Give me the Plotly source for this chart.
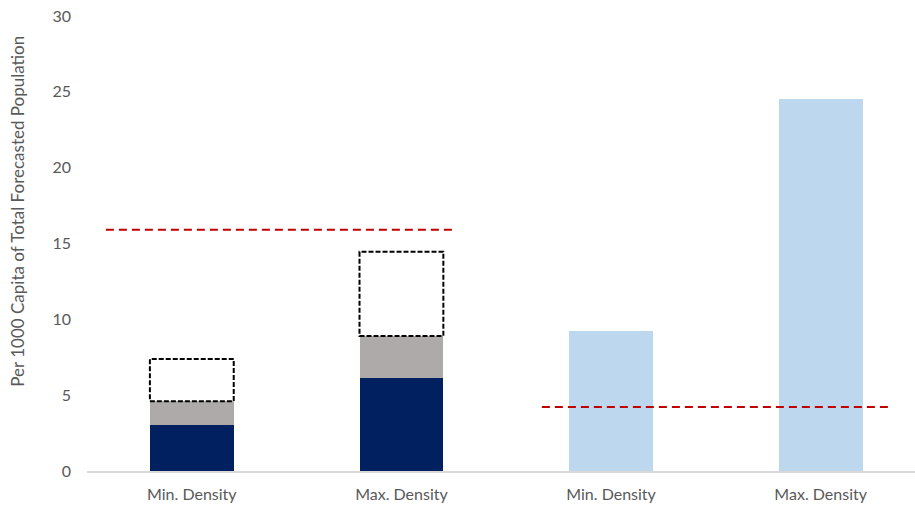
import plotly.graph_objects as go

# Categories along the x axis (two groups of Min./Max. density)
categories = ["Min. Density", "Max. Density", "Min. Density", "Max. Density"]
x_pos = [0, 1, 2, 3]

# Stacked components for the first group
navy_vals = [3.05, 6.13]
gray_vals = [1.55, 2.77]
open_vals = [2.78, 5.56]   # dashed outline segment on top of the stack

# Second group
light_vals = [9.2, 24.55]

# Reference levels (dashed red lines) for each group
ref_levels = [15.9, 4.22]

y_title = "Per 1000 Capita of Total Forecasted Population"

BAR_W = 0.4
NAVY = "#002060"
GRAY = "#AEAAAA"
LIGHT = "#BDD7EE"
RED = "#C00000"
TXT = "#595959"
FONT = "Lato"

fig = go.Figure()

fig.add_trace(go.Bar(x=x_pos[:2], y=navy_vals, marker=dict(color=NAVY, line=dict(width=0)),
                     width=BAR_W, showlegend=False))
fig.add_trace(go.Bar(x=x_pos[:2], y=gray_vals, marker=dict(color=GRAY, line=dict(width=0)),
                     width=BAR_W, showlegend=False))
fig.add_trace(go.Bar(x=x_pos[2:], y=light_vals, marker=dict(color=LIGHT, line=dict(width=0)),
                     width=BAR_W, showlegend=False))

# Dashed open boxes stacked on top of navy + gray
for xi, n, g, o in zip(x_pos[:2], navy_vals, gray_vals, open_vals):
    base = n + g
    fig.add_shape(type="rect", xref="x", yref="y",
                  x0=xi - BAR_W / 2, x1=xi + BAR_W / 2, y0=base, y1=base + o,
                  line=dict(color="#000000", width=2, dash="5px,2px"),
                  fillcolor="rgba(0,0,0,0)", layer="above")

# Red reference lines, one per group
ref_spans = [(-0.41, 1.25), (1.67, 3.33)]
for (xa, xb), lvl in zip(ref_spans, ref_levels):
    fig.add_trace(go.Scatter(x=[xa, xb], y=[lvl, lvl], mode="lines",
                             line=dict(color=RED, width=2, dash="8px,5px"),
                             showlegend=False, hoverinfo="skip"))

# Vertical axis title
fig.add_annotation(text=y_title, textangle=-90, xref="paper", yref="paper",
                   x=-87 / 828 + 17.5 / 828, y=0.571, xanchor="center", yanchor="middle",
                   showarrow=False, font=dict(size=17, color=TXT, family=FONT))

fig.update_layout(
    barmode="stack",
    width=915, height=506,
    margin=dict(l=87, r=0, t=16, b=35),
    paper_bgcolor="white", plot_bgcolor="white",
    font=dict(family=FONT, color=TXT, size=15),
    xaxis=dict(range=[-0.5, 3.45], tickmode="array", tickvals=x_pos, ticktext=categories,
               showgrid=False, zeroline=False, showline=True, linecolor="#D9D9D9",
               linewidth=1.5, ticks="", ticklabelstandoff=8,
               tickfont=dict(size=16, color=TXT, family=FONT)),
    yaxis=dict(range=[0, 30], tickvals=[0, 5, 10, 15, 20, 25, 30], showgrid=False,
               zeroline=False, showline=False, ticks="", ticklabelstandoff=15,
               tickfont=dict(size=16, color=TXT, family=FONT)),
)

fig.write_html("out.html")
